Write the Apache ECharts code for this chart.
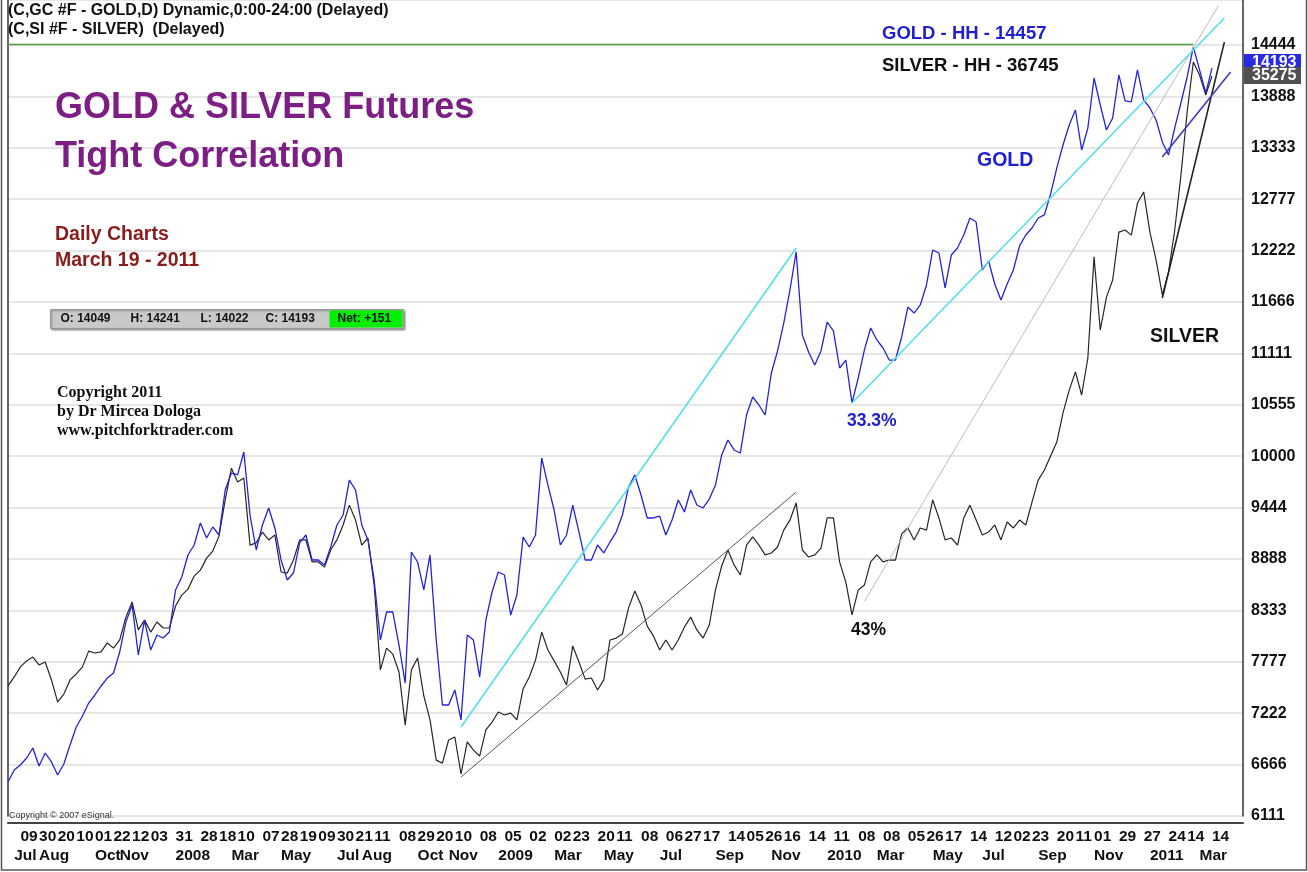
<!DOCTYPE html>
<html>
<head>
<meta charset="utf-8">
<title>Gold & Silver Futures - Tight Correlation</title>
<script src="https://cdn.jsdelivr.net/npm/echarts@6/dist/echarts.min.js"></script>
<style>
  html, body { margin: 0; padding: 0; background: #fff; }
  #chart { width: 1308px; height: 872px; }
</style>
</head>
<body>
<div id="chart"></div>
<script>
// one point per week, Monday dates from 2007-06-25
var firstWeek = '2007-06-25'
var weekCount = 200

// gold futures (price x 10), weekly readings
var gold = [
  6478, 6608, 6662, 6738, 6846, 6651, 6792, 6695, 6554, 6673,
  6878, 7073, 7192, 7332, 7419, 7516, 7602, 7657, 7883, 8208,
  8392, 7851, 8229, 7905, 8067, 8035, 8100, 8554, 8694, 8932,
  9040, 9278, 9116, 9235, 9148, 9634, 9818, 9797, 10045, 9364,
  8986, 9256, 9440, 9224, 8878, 8662, 8737, 9062, 9148, 8878,
  8878, 8824, 9018, 9256, 9364, 9742, 9634, 9256, 9094, 8662,
  8013, 8316, 8316, 7959, 7548, 8964, 8856, 8554, 8932, 8013,
  7311, 7311, 7473, 7149, 8067, 8013, 7613, 8229, 8532, 8748,
  8716, 8283, 8500, 9126, 9018, 9148, 9980, 9688, 9418, 9040,
  9148, 9472, 9180, 8878, 8878, 9040, 8954, 9072, 9180, 9364,
  9667, 9797, 9580, 9332, 9332, 9353, 9148, 9310, 9526, 9397,
  9634, 9472, 9440, 9537, 9688, 10013, 10175, 10067, 10034, 10445,
  10640, 10553, 10445, 10899, 11137, 11439, 11796, 12207, 11310, 11126,
  10985, 11137, 11450, 11353, 10953, 11039, 10575, 10845, 11148, 11385,
  11256, 11169, 11039, 11039, 11288, 11612, 11547, 11634, 11850, 12228,
  12196, 11818, 12174, 12250, 12390, 12574, 12531, 12012, 12109, 11861,
  11688, 11861, 12012, 12272, 12390, 12466, 12574, 12607, 12834, 13115,
  13363, 13579, 13741, 13309, 13547, 14087, 13795, 13525, 13655, 14120,
  13839, 13828, 14174, 13850, 13763, 13633, 13396, 13255, 13547, 13817,
  14098, 14422, 14174, 13925, 14193
]

// silver futures ($), same weeks, overlaid on its own hidden scale
var silver = [
  12.84, 13.17, 13.54, 13.76, 13.90, 13.61, 13.72, 13.06, 12.25, 12.54,
  13.06, 13.28, 13.54, 14.12, 14.05, 14.09, 14.42, 14.23, 14.53, 15.37,
  15.93, 14.90, 15.26, 14.82, 15.19, 14.97, 14.97, 15.78, 16.18, 16.40,
  16.88, 17.10, 17.54, 17.80, 18.35, 19.68, 20.85, 20.34, 20.49, 18.02,
  18.10, 18.50, 18.21, 18.39, 17.03, 16.99, 17.47, 18.21, 18.21, 17.40,
  17.40, 17.21, 17.84, 18.21, 18.76, 19.49, 18.94, 18.02, 18.28, 16.55,
  13.43, 14.23, 14.01, 13.35, 11.40, 13.43, 13.87, 12.47, 11.59, 10.11,
  10.00, 10.85, 10.96, 9.60, 10.78, 10.48, 10.26, 11.22, 11.51, 11.88,
  11.77, 11.84, 11.59, 12.73, 13.17, 13.79, 14.82, 14.16, 13.76, 13.35,
  12.87, 14.31, 13.72, 13.09, 13.13, 12.69, 13.06, 14.53, 14.60, 14.75,
  15.71, 16.33, 15.82, 15.04, 14.68, 14.16, 14.53, 14.16, 14.53, 15.01,
  15.37, 14.90, 14.60, 15.08, 16.37, 17.25, 17.84, 17.29, 16.92, 18.02,
  18.32, 18.02, 17.66, 17.73, 17.95, 18.57, 18.94, 19.57, 17.84, 17.58,
  17.66, 17.91, 19.02, 19.02, 17.40, 16.66, 15.45, 16.37, 16.55, 17.40,
  17.66, 17.40, 17.47, 17.47, 18.43, 18.65, 18.21, 18.65, 18.57, 19.68,
  19.02, 18.21, 18.28, 18.02, 19.02, 19.49, 18.94, 18.39, 18.50, 18.76,
  18.21, 18.87, 18.65, 18.94, 18.76, 19.60, 20.41, 20.78, 21.30, 21.81,
  22.88, 23.72, 24.39, 23.54, 24.90, 28.62, 25.93, 27.14, 27.77, 29.53,
  29.61, 29.42, 30.60, 31.01, 29.53, 28.50, 27.22, 28.06, 29.61, 31.63,
  33.95, 35.79, 35.31, 34.57, 35.27
]

// day-of-month ticks (top row of the time axis)
var dayTicks = [
  '2007-07-09', '2007-07-30', '2007-08-20', '2007-09-10', '2007-10-01', '2007-10-22', '2007-11-12', '2007-12-03', '2007-12-31',
  '2008-01-28', '2008-02-18', '2008-03-10', '2008-04-07', '2008-04-28', '2008-05-19', '2008-06-09', '2008-06-30', '2008-07-21',
  '2008-08-11', '2008-09-08', '2008-09-29', '2008-10-20', '2008-11-10', '2008-12-08',
  '2009-01-05', '2009-02-02', '2009-03-02', '2009-03-23', '2009-04-20', '2009-05-11', '2009-06-08', '2009-07-06', '2009-07-27',
  '2009-08-17', '2009-09-14', '2009-10-05', '2009-10-26', '2009-11-16', '2009-12-14',
  '2010-01-11', '2010-02-08', '2010-03-08', '2010-04-05', '2010-04-26', '2010-05-17', '2010-06-14', '2010-07-12', '2010-08-02',
  '2010-08-23', '2010-09-20', '2010-10-11', '2010-11-01', '2010-11-29', '2010-12-27',
  '2011-01-24', '2011-02-14', '2011-03-14'
]

// month / year ticks (bottom row)
var monthTickDates = [
  '2007-07-02', '2007-07-30', '2007-10-01', '2007-10-29', '2007-12-31', '2008-03-03', '2008-04-28', '2008-06-30',
  '2008-07-28', '2008-09-29', '2008-11-03', '2008-12-29', '2009-03-02', '2009-04-27', '2009-06-29', '2009-08-31',
  '2009-11-02', '2010-01-04', '2010-03-01', '2010-05-03', '2010-06-28', '2010-08-30', '2010-11-01', '2011-01-03', '2011-02-28'
]
var monthTickNames = [
  'Jul', 'Aug', 'Oct', 'Nov', '2008', 'Mar', 'May', 'Jul',
  'Aug', 'Oct', 'Nov', '2009', 'Mar', 'May', 'Jul', 'Sep',
  'Nov', '2010', 'Mar', 'May', 'Jul', 'Sep', 'Nov', '2011', 'Mar'
]

// price axis: steps of 5000/9, starting at 11 steps
var goldStep = 5000 / 9
var goldMin = 11 * goldStep
var goldMax = 14930
var silverMin = 8.055
var silverMax = 38.07

var goldHH = 14457
// trend lines [date, value] pairs
var goldChannelA = [['2008-11-17', 7073], ['2009-11-30', 12250]]
var goldChannelB = [['2010-02-01', 10575], ['2011-03-28', 14736]]
var goldShortLine = [['2011-01-17', 13233], ['2011-04-04', 14152]]
var silverBaseLine = [['2008-11-17', 9.49], ['2009-11-30', 19.97]]
var silverLongLine = [['2010-02-15', 15.95], ['2011-03-21', 37.85]]
var silverSteepLine = [['2011-01-17', 27.11], ['2011-03-28', 36.52]]

var weeks = []
var d0 = new Date(firstWeek + 'T00:00:00Z')
for (var i = 0; i < weekCount; i++) {
  weeks.push(new Date(d0.getTime() + i * 7 * 86400000).toISOString().slice(0, 10))
}

var sans = '"Liberation Sans", Arial, sans-serif'
var serif = '"Liberation Serif", "Times New Roman", serif'

function segment(pts, color, width) {
  return [
    { coord: pts[0], lineStyle: { color: color, width: width, type: 'solid' } },
    { coord: pts[1] }
  ]
}

function label(x, y, text, font, color) {
  return { type: 'text', left: x, top: y, z: 100, style: { text: text, font: font, fill: color } }
}

var chart = echarts.init(document.getElementById('chart'))
chart.setOption({
  animation: false,
  backgroundColor: '#ffffff',
  grid: { left: 8, right: 65, top: 0, bottom: 56 },
  xAxis: [
    {
      type: 'category',
      data: weeks,
      boundaryGap: false,
      offset: 7,
      axisLine: { lineStyle: { color: '#444', width: 2 } },
      axisTick: { show: false },
      splitLine: { show: false },
      axisLabel: {
        interval: function (idx, val) { return dayTicks.indexOf(val) >= 0 },
        formatter: function (val) { return val.slice(8) },
        showMinLabel: true,
        showMaxLabel: true,
        align: 'left',
        verticalAlign: 'top',
        margin: 6,
        color: '#111',
        fontFamily: sans,
        fontWeight: 'bold',
        fontSize: 15.5
      }
    },
    {
      type: 'category',
      data: weeks,
      boundaryGap: false,
      position: 'bottom',
      offset: 26,
      axisLine: { show: false },
      axisTick: { show: false },
      splitLine: { show: false },
      axisLabel: {
        interval: function (idx, val) { return monthTickDates.indexOf(val) >= 0 },
        formatter: function (val) { return monthTickNames[monthTickDates.indexOf(val)] },
        showMinLabel: true,
        showMaxLabel: true,
        align: 'left',
        verticalAlign: 'top',
        margin: 6,
        color: '#111',
        fontFamily: sans,
        fontWeight: 'bold',
        fontSize: 15.5
      }
    }
  ],
  yAxis: [
    {
      type: 'value',
      position: 'right',
      min: goldMin,
      max: goldMax,
      interval: goldStep,
      axisLine: { show: true, lineStyle: { color: '#333', width: 1.5 } },
      axisTick: { show: false },
      splitLine: { lineStyle: { color: '#dedede', width: 1.5 } },
      axisLabel: {
        showMaxLabel: false,
        margin: 8,
        color: '#111',
        fontFamily: sans,
        fontWeight: 'bold',
        fontSize: 16,
        formatter: function (v) { return String(Math.floor(v + 0.001)) }
      }
    },
    {
      type: 'value',
      position: 'left',
      min: silverMin,
      max: silverMax,
      axisLine: { show: true, lineStyle: { color: '#333', width: 1.5 } },
      axisTick: { show: false },
      axisLabel: { show: false },
      splitLine: { show: false }
    }
  ],
  series: [
    {
      name: 'SILVER',
      type: 'line',
      yAxisIndex: 1,
      data: silver,
      showSymbol: false,
      lineStyle: { color: '#262626', width: 1.2 },
      markLine: {
        silent: true,
        symbol: 'none',
        label: { show: false },
        data: [
          segment(silverBaseLine, '#555555', 1),
          segment(silverLongLine, '#bdbdbd', 1),
          segment(silverSteepLine, '#222222', 1.6)
        ]
      }
    },
    {
      name: 'GOLD',
      type: 'line',
      data: gold,
      showSymbol: false,
      lineStyle: { color: '#2323dc', width: 1.3 },
      markLine: {
        silent: true,
        symbol: 'none',
        label: { show: false },
        data: [
          segment([[weeks[0], goldHH], ['2011-02-21', goldHH]], '#4e9c3e', 1.3),
          segment(goldChannelA, '#52e0ea', 1.6),
          segment(goldChannelB, '#52e0ea', 1.6),
          segment(goldShortLine, '#3b3bc4', 1.6)
        ]
      }
    }
  ],
  graphic: [
    { type: 'rect', shape: { x: 1.5, y: -2, width: 1305, height: 872 }, style: { fill: 'none', stroke: '#555', lineWidth: 1.5 }, silent: true },
    label(8, 3, '(C,GC #F - GOLD,D) Dynamic,0:00-24:00 (Delayed)', 'bold 16px ' + sans, '#111'),
    label(8, 22, '(C,SI #F - SILVER)  (Delayed)', 'bold 16px ' + sans, '#111'),
    label(55, 90, 'GOLD & SILVER Futures', 'bold 36px ' + sans, '#7c1e84'),
    label(55, 139, 'Tight Correlation', 'bold 36px ' + sans, '#7c1e84'),
    label(55, 225, 'Daily Charts', 'bold 19.5px ' + sans, '#8a1c1c'),
    label(55, 251, 'March 19 - 2011', 'bold 19.5px ' + sans, '#8a1c1c'),
    {
      type: 'group', left: 50, top: 309, z: 100,
      children: [
        { type: 'rect', shape: { x: 0, y: 0, width: 353, height: 19 }, style: { fill: '#c9c9c9', stroke: '#9a9a9a', shadowBlur: 2, shadowOffsetX: 1, shadowOffsetY: 1, shadowColor: 'rgba(0,0,0,0.4)' } },
        { type: 'rect', shape: { x: 279, y: 1, width: 73, height: 17 }, style: { fill: '#00f000' } },
        { type: 'text', x: 10, y: 3, style: { text: 'O: 14049', font: 'bold 12px ' + sans, fill: '#111' } },
        { type: 'text', x: 80, y: 3, style: { text: 'H: 14241', font: 'bold 12px ' + sans, fill: '#111' } },
        { type: 'text', x: 150, y: 3, style: { text: 'L: 14022', font: 'bold 12px ' + sans, fill: '#111' } },
        { type: 'text', x: 215, y: 3, style: { text: 'C: 14193', font: 'bold 12px ' + sans, fill: '#111' } },
        { type: 'text', x: 287, y: 3, style: { text: 'Net: +151', font: 'bold 12px ' + sans, fill: '#111' } }
      ]
    },
    label(57, 385, 'Copyright 2011', 'bold 16px ' + serif, '#111'),
    label(57, 404, 'by Dr Mircea Dologa', 'bold 16px ' + serif, '#111'),
    label(57, 423, 'www.pitchforktrader.com', 'bold 16px ' + serif, '#111'),
    label(882, 24, 'GOLD - HH - 14457', 'bold 18.5px ' + sans, '#2020d0'),
    label(882, 56, 'SILVER - HH - 36745', 'bold 18.5px ' + sans, '#111'),
    label(977, 151, 'GOLD', 'bold 19.5px ' + sans, '#2020d0'),
    label(1150, 327, 'SILVER', 'bold 19.5px ' + sans, '#111'),
    label(847, 412, '33.3%', 'bold 17.5px ' + sans, '#2020d0'),
    label(851, 621, '43%', 'bold 17.5px ' + sans, '#111'),
    label(9, 811, 'Copyright \u00a9 2007 eSignal.', '9px ' + sans, '#333'),
    {
      type: 'group', left: 1244, top: 54, z: 100,
      children: [
        { type: 'rect', shape: { x: 0, y: 0, width: 57, height: 16 }, style: { fill: '#2a2ae0' } },
        { type: 'text', x: 8, y: 1, style: { text: '14193', font: 'bold 16px ' + sans, fill: '#fff' } },
        { type: 'rect', shape: { x: 0, y: 13, width: 57, height: 17 }, style: { fill: '#505050' } },
        { type: 'text', x: 8, y: 14, style: { text: '35275', font: 'bold 16px ' + sans, fill: '#fff' } }
      ]
    }
  ]
})
</script>
</body>
</html>
